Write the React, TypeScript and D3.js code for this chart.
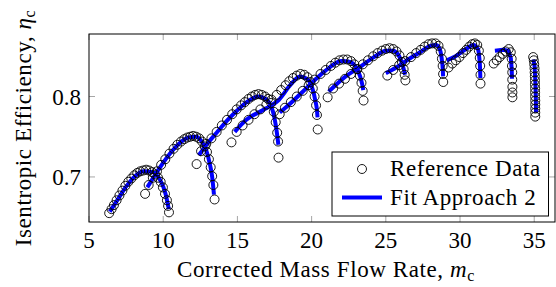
import * as d3 from 'd3'

// reference data per speed line: [corrected mass flow, isentropic efficiency]
const refSpeed1: [number, number][] = [
  [6.36, 0.655], [6.52, 0.66], [6.68, 0.665], [6.86, 0.671], [7.05, 0.677], [7.25, 0.683],
  [7.45, 0.689], [7.65, 0.694], [7.85, 0.698], [8.05, 0.702], [8.25, 0.705], [8.45, 0.707],
  [8.65, 0.708], [8.85, 0.709], [9.05, 0.708], [9.25, 0.706], [9.45, 0.703], [9.65, 0.699],
  [9.83, 0.694], [9.98, 0.687], [10.12, 0.679], [10.25, 0.671], [10.33, 0.664], [10.39, 0.656],
]
const refSpeed2: [number, number][] = [
  [8.78, 0.679], [9.02, 0.69], [9.3, 0.699], [9.58, 0.707], [9.86, 0.715], [10.14, 0.722],
  [10.42, 0.729], [10.7, 0.735], [10.95, 0.74], [11.2, 0.744], [11.42, 0.747], [11.62, 0.749],
  [11.82, 0.75], [12.02, 0.751], [12.22, 0.75], [12.42, 0.748], [12.62, 0.744], [12.8, 0.738],
  [12.95, 0.731], [13.08, 0.722], [13.2, 0.712], [13.3, 0.701], [13.38, 0.69], [13.46, 0.672],
]
const refSpeed3: [number, number][] = [
  [12.25, 0.716], [12.55, 0.732], [12.9, 0.741], [13.25, 0.748], [13.6, 0.756], [13.95, 0.764],
  [14.3, 0.771], [14.65, 0.778], [14.95, 0.784], [15.25, 0.789], [15.5, 0.793], [15.75, 0.797],
  [15.98, 0.8], [16.2, 0.802], [16.42, 0.803], [16.64, 0.802], [16.86, 0.8], [17.06, 0.797],
  [17.28, 0.792], [17.45, 0.781], [17.58, 0.768], [17.68, 0.755], [17.74, 0.744], [17.77, 0.724],
]
const refSpeed4: [number, number][] = [
  [14.6, 0.743], [14.95, 0.756], [15.35, 0.764], [15.75, 0.771], [16.15, 0.778], [16.55, 0.784],
  [16.95, 0.79], [17.3, 0.796], [17.65, 0.802], [17.95, 0.808], [18.25, 0.814], [18.5, 0.819],
  [18.75, 0.823], [19.0, 0.826], [19.25, 0.828], [19.5, 0.827], [19.72, 0.824], [19.92, 0.818],
  [20.08, 0.81], [20.2, 0.8], [20.3, 0.789], [20.36, 0.777], [20.41, 0.759],
]
const refSpeed5: [number, number][] = [
  [17.85, 0.778], [18.2, 0.786], [18.6, 0.793], [19.0, 0.8], [19.4, 0.807], [19.8, 0.814],
  [20.2, 0.821], [20.6, 0.828], [20.95, 0.833], [21.3, 0.838], [21.6, 0.842], [21.88, 0.845],
  [22.14, 0.846], [22.4, 0.846], [22.65, 0.844], [22.88, 0.84], [23.08, 0.834], [23.25, 0.826],
  [23.36, 0.817], [23.44, 0.807], [23.5, 0.795],
]
const refSpeed6: [number, number][] = [
  [21.08, 0.799], [21.45, 0.81], [21.85, 0.816], [22.25, 0.822], [22.65, 0.828], [23.05, 0.834],
  [23.45, 0.84], [23.8, 0.845], [24.15, 0.85], [24.45, 0.854], [24.75, 0.857], [25.0, 0.859],
  [25.25, 0.86], [25.5, 0.859], [25.72, 0.856], [25.92, 0.851], [26.08, 0.843], [26.2, 0.834],
  [26.27, 0.827], [26.32, 0.82],
]
const refSpeed7: [number, number][] = [
  [25.1, 0.826], [25.5, 0.833], [25.9, 0.839], [26.3, 0.844], [26.7, 0.849], [27.05, 0.854],
  [27.35, 0.858], [27.62, 0.862], [27.88, 0.865], [28.12, 0.866], [28.35, 0.866], [28.55, 0.863],
  [28.7, 0.856], [28.78, 0.847], [28.83, 0.838], [28.86, 0.828], [28.87, 0.818],
]
const refSpeed8: [number, number][] = [
  [29.22, 0.836], [29.48, 0.841], [29.72, 0.845], [29.96, 0.849], [30.2, 0.854], [30.42, 0.858],
  [30.62, 0.862], [30.82, 0.865], [31.0, 0.866], [31.16, 0.864], [31.27, 0.857], [31.33, 0.848],
  [31.36, 0.838], [31.38, 0.827], [31.38, 0.816],
]
const refSpeed9: [number, number][] = [
  [32.27, 0.841], [32.47, 0.845], [32.67, 0.849], [32.88, 0.853], [33.08, 0.856], [33.28, 0.859],
  [33.42, 0.855], [33.48, 0.847], [33.5, 0.838], [33.52, 0.83], [33.52, 0.821], [33.53, 0.812],
  [33.53, 0.805], [33.53, 0.799],
]
const refSpeed10: [number, number][] = [
  [34.93, 0.849], [34.97, 0.845], [35.0, 0.84], [35.02, 0.835], [35.03, 0.83], [35.04, 0.825],
  [35.05, 0.82], [35.05, 0.815], [35.06, 0.81], [35.06, 0.805], [35.06, 0.8], [35.07, 0.795],
  [35.07, 0.79], [35.07, 0.785], [35.07, 0.78], [35.07, 0.775],
]

// fitted speed lines (approach 2)
const fitSpeed1: [number, number][] = [
  [6.4, 0.657], [6.9, 0.671], [7.5, 0.688], [8.1, 0.701], [8.7, 0.707], [9.3, 0.706],
  [9.7, 0.699], [10.0, 0.688], [10.2, 0.676], [10.32, 0.665], [10.38, 0.66],
]
const fitSpeed2: [number, number][] = [
  [8.93, 0.687], [9.4, 0.701], [9.9, 0.715], [10.5, 0.73], [11.1, 0.742], [11.7, 0.749],
  [12.2, 0.75], [12.6, 0.744], [12.9, 0.733], [13.12, 0.718], [13.3, 0.7], [13.42, 0.678],
]
const fitSpeed3: [number, number][] = [
  [12.4, 0.727], [13.0, 0.742], [13.6, 0.755], [14.3, 0.77], [15.0, 0.783], [15.7, 0.794],
  [16.4, 0.8], [16.9, 0.797], [17.25, 0.789], [17.5, 0.773], [17.66, 0.755], [17.76, 0.74],
]
const fitSpeed4: [number, number][] = [
  [14.82, 0.756], [15.6, 0.771], [16.7, 0.783], [17.8, 0.796], [18.6, 0.815], [19.2, 0.825],
  [19.7, 0.822], [20.05, 0.81], [20.25, 0.795], [20.36, 0.783], [20.4, 0.774],
]
const fitSpeed5: [number, number][] = [
  [17.85, 0.78], [18.6, 0.792], [19.4, 0.806], [20.3, 0.822], [21.2, 0.836], [22.0, 0.844],
  [22.6, 0.843], [23.0, 0.836], [23.25, 0.826], [23.4, 0.816], [23.48, 0.808],
]
const fitSpeed6: [number, number][] = [
  [21.15, 0.806], [22.3, 0.825], [23.2, 0.836], [24.2, 0.849], [25.0, 0.857], [25.5, 0.857],
  [25.9, 0.85], [26.15, 0.838], [26.3, 0.827],
]
const fitSpeed7: [number, number][] = [
  [25.0, 0.829], [25.7, 0.836], [26.5, 0.846], [27.3, 0.855], [28.0, 0.863], [28.4, 0.864],
  [28.65, 0.858], [28.78, 0.845], [28.84, 0.833], [28.86, 0.825],
]
const fitSpeed8: [number, number][] = [
  [29.1, 0.845], [29.7, 0.85], [30.4, 0.859], [30.9, 0.864], [31.2, 0.859], [31.3, 0.848],
  [31.35, 0.835], [31.37, 0.823],
]
const fitSpeed9: [number, number][] = [
  [32.35, 0.857], [32.9, 0.858], [33.25, 0.857], [33.42, 0.848], [33.48, 0.835], [33.5, 0.822],
]
const fitSpeed10: [number, number][] = [
  [34.95, 0.846], [35.02, 0.838], [35.06, 0.825], [35.09, 0.81], [35.11, 0.795], [35.12, 0.78],
]

const refLines = [refSpeed1, refSpeed2, refSpeed3, refSpeed4, refSpeed5, refSpeed6, refSpeed7, refSpeed8, refSpeed9, refSpeed10]
const fitLines = [fitSpeed1, fitSpeed2, fitSpeed3, fitSpeed4, fitSpeed5, fitSpeed6, fitSpeed7, fitSpeed8, fitSpeed9, fitSpeed10]

const xTicks = [5, 10, 15, 20, 25, 30, 35]
const yTicks = [0.7, 0.8]
const legendLabels = ['Reference Data', 'Fit Approach 2']

const width = 556
const height = 287
const plot = { left: 89, right: 555, top: 34, bottom: 222 }
const font = 'Liberation Serif, Times New Roman, serif'
const fontSize = 23
const spacing = 0.6
const blue = '#0000ff'

export default function App() {
  const x = d3.scaleLinear().domain([5, 36.4]).range([plot.left, plot.right])
  const y = d3.scaleLinear().domain([0.644, 0.8777]).range([plot.bottom, plot.top])
  const line = d3
    .line<[number, number]>()
    .x(d => x(d[0]))
    .y(d => y(d[1]))
    .curve(d3.curveMonotoneX)
  const straight = d3
    .line<[number, number]>()
    .x(d => x(d[0]))
    .y(d => y(d[1]))

  const tickLen = 6
  const legend = { x: 332, y: 152, w: 216.5, h: 64 }

  return (
    <svg
      width={width}
      height={height}
      style={{ position: 'absolute', left: 0, top: 0, background: '#fff', fontFamily: font }}
    >
      <defs>
        <clipPath id="plot-clip">
          <rect x={plot.left} y={plot.top} width={plot.right - plot.left} height={plot.bottom - plot.top} />
        </clipPath>
      </defs>

      {/* ticks */}
      {xTicks.map(t => (
        <g key={'xt' + t} stroke="#a6a6a6" strokeWidth={1}>
          <line x1={x(t)} x2={x(t)} y1={plot.bottom} y2={plot.bottom - tickLen} />
          <line x1={x(t)} x2={x(t)} y1={plot.top} y2={plot.top + tickLen} />
        </g>
      ))}
      {yTicks.map(t => (
        <g key={'yt' + t} stroke="#a6a6a6" strokeWidth={1}>
          <line x1={plot.left} x2={plot.left + tickLen} y1={y(t)} y2={y(t)} />
          <line x1={plot.right} x2={plot.right - tickLen} y1={y(t)} y2={y(t)} />
        </g>
      ))}

      <g clipPath="url(#plot-clip)">
        {/* fits */}
        {fitLines.map((pts, i) => (
          <path
            key={'fit' + i}
            d={(i >= 8 ? straight(pts) : line(pts)) || ''}
            fill="none"
            stroke={blue}
            strokeWidth={4}
            strokeLinejoin="round"
          />
        ))}
        {/* reference data */}
        {refLines.map((pts, i) => (
          <g key={'ref' + i}>
            {pts.map((d, j) => (
              <circle key={j} cx={x(d[0])} cy={y(d[1])} r={4.5} fill="none" stroke="#000" strokeWidth={0.9} />
            ))}
          </g>
        ))}
      </g>

      {/* frame */}
      <rect
        x={plot.left}
        y={plot.top}
        width={plot.right - plot.left}
        height={plot.bottom - plot.top}
        fill="none"
        stroke="#000"
        strokeWidth={1}
      />

      {/* tick labels */}
      {xTicks.map(t => (
        <text key={'xl' + t} x={x(t)} y={plot.bottom + 26} textAnchor="middle" fontSize={fontSize}>
          {t}
        </text>
      ))}
      {yTicks.map(t => (
        <text key={'yl' + t} x={plot.left - 8} y={y(t) + 8} textAnchor="end" fontSize={fontSize}>
          {d3.format('.1f')(t)}
        </text>
      ))}

      {/* axis labels */}
      <text
        x={(plot.left + plot.right) / 2 + 4}
        y={277}
        textAnchor="middle"
        fontSize={fontSize}
        letterSpacing={spacing}
      >
        Corrected Mass Flow Rate, <tspan fontStyle="italic">m</tspan>
        <tspan fontSize={16} dy={4}>c</tspan>
      </text>
      <text
        transform={`translate(31,${(plot.top + plot.bottom) / 2}) rotate(-90)`}
        textAnchor="middle"
        fontSize={fontSize}
        letterSpacing={spacing}
      >
        Isentropic Efficiency, <tspan fontStyle="italic">η</tspan>
        <tspan fontSize={16} dy={4}>c</tspan>
      </text>

      {/* legend */}
      <rect x={legend.x} y={legend.y} width={legend.w} height={legend.h} fill="#fff" stroke="#000" strokeWidth={1} />
      <circle cx={362} cy={legend.y + 17} r={4.5} fill="none" stroke="#000" strokeWidth={0.9} />
      <line x1={342} x2={382} y1={legend.y + 45.5} y2={legend.y + 45.5} stroke={blue} strokeWidth={4} />
      {legendLabels.map((label, i) => (
        <text key={label} x={390} y={legend.y + 24 + i * 28.5} fontSize={fontSize} letterSpacing={spacing}>
          {label}
        </text>
      ))}
    </svg>
  )
}
